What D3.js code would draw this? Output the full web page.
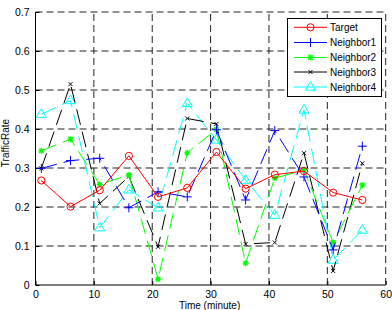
<!DOCTYPE html>
<html><head><meta charset="utf-8">
<script src="https://cdn.jsdelivr.net/npm/d3@7"></script>
<style>body{margin:0;background:#fff}svg{display:block}text{font-family:"Liberation Sans",Arial,sans-serif;}</style>
</head><body>
<svg id="c" width="392" height="310"></svg>
<script>
const minutes = [1, 6, 11, 16, 21, 26, 31, 36, 41, 46, 51, 56];
const target    = [0.268, 0.201, 0.243, 0.331, 0.226, 0.249, 0.341, 0.247, 0.283, 0.292, 0.237, 0.218];
const neighbor1 = [0.299, 0.319, 0.325, 0.198, 0.239, 0.226, 0.398, 0.218, 0.396, 0.277, 0.090, 0.356];
const neighbor2 = [0.344, 0.374, 0.258, 0.282, 0.015, 0.339, 0.399, 0.056, 0.274, 0.295, 0.109, 0.256];
const neighbor3 = [0.299, 0.515, 0.209, 0.278, 0.098, 0.427, 0.413, 0.105, 0.109, 0.338, 0.036, 0.312];
const neighbor4 = [0.438, 0.473, 0.147, 0.244, 0.198, 0.466, 0.372, 0.269, 0.179, 0.449, 0.064, 0.141];
const seriesNames = ["Target", "Neighbor1", "Neighbor2", "Neighbor3", "Neighbor4"];
const xTicks = [0, 10, 20, 30, 40, 50, 60];
const yTicks = [0, 0.1, 0.2, 0.3, 0.4, 0.5, 0.6, 0.7];

const series = [
  {name: seriesNames[0], values: target,    color: "#ff0000", marker: "circle",   dash: null},
  {name: seriesNames[1], values: neighbor1, color: "#0000ff", marker: "plus",     dash: "16,7"},
  {name: seriesNames[2], values: neighbor2, color: "#00ff00", marker: "star",     dash: "16,7"},
  {name: seriesNames[3], values: neighbor3, color: "#000000", marker: "x",        dash: "16,7"},
  {name: seriesNames[4], values: neighbor4, color: "#00ffff", marker: "triangle", dash: "16,7"}
];

const svg = d3.select("#c");
const L = 35.5, R = 385.7, T = 12, B = 285;
const x = d3.scaleLinear().domain([0, 60]).range([L, R]);
const y = d3.scaleLinear().domain([0, 0.7]).range([B, T]);

// grid
const g = svg.append("g");
g.selectAll(".gx").data(xTicks.slice(1)).enter().append("line")
  .attr("x1", d => x(d)).attr("x2", d => x(d)).attr("y1", B).attr("y2", T)
  .attr("stroke", "#222").attr("stroke-width", 1).attr("stroke-dasharray", "7,4");
g.selectAll(".gy").data(yTicks.slice(1)).enter().append("line")
  .attr("y1", d => y(d)).attr("y2", d => y(d)).attr("x1", L).attr("x2", R)
  .attr("stroke", "#222").attr("stroke-width", 1).attr("stroke-dasharray", "7,4");

// axes
const xAxis = d3.axisBottom(x).tickValues(xTicks).tickSize(-4).tickPadding(6).tickFormat(d3.format("d"));
const yAxis = d3.axisLeft(y).tickValues(yTicks).tickSize(-4).tickPadding(6).tickFormat(d => d === 0 ? "0" : d3.format(".1f")(d));
const ax = svg.append("g").attr("transform", `translate(0,${B})`).call(xAxis);
const ay = svg.append("g").attr("transform", `translate(${L},0)`).call(yAxis);
[ax, ay].forEach(a => {
  a.select(".domain").remove();
  a.selectAll("line").attr("stroke", "#000");
  a.selectAll("text").attr("font-size", "10.5px").attr("fill", "#000").attr("font-family", "Liberation Sans, Arial, sans-serif");
});
svg.append("line").attr("x1", L).attr("x2", R).attr("y1", B).attr("y2", B).attr("stroke", "#000");
svg.append("line").attr("x1", L).attr("x2", L).attr("y1", B).attr("y2", T).attr("stroke", "#000");

// markers
function drawMarker(sel, type, color) {
  if (type === "circle") {
    sel.append("circle").attr("r", 3.6).attr("fill", "none").attr("stroke", color);
  } else if (type === "plus") {
    sel.append("path").attr("d", "M-4.5,0H4.5M0,-4.5V4.5").attr("stroke", color);
  } else if (type === "star") {
    sel.append("path").attr("d", "M-3,0H3M0,-3V3M-2.2,-2.2L2.2,2.2M-2.2,2.2L2.2,-2.2").attr("stroke", color).attr("stroke-width", 1.3);
  } else if (type === "x") {
    sel.append("path").attr("d", "M-2,-2L2,2M-2,2L2,-2").attr("stroke", color);
  } else if (type === "triangle") {
    sel.append("path").attr("d", "M0,-5.5L5,3.2L-5,3.2Z").attr("fill", "none").attr("stroke", color);
  }
}

const line = d3.line().x((d, i) => x(minutes[i])).y(d => y(d));
const plot = svg.append("g");
series.slice().reverse().forEach(s => {
  plot.append("path").datum(s.values).attr("d", line)
    .attr("fill", "none").attr("stroke", s.color).attr("stroke-width", 1)
    .attr("stroke-dasharray", s.dash);
  s.values.forEach((v, i) => {
    const m = plot.append("g").attr("transform", `translate(${x(minutes[i])},${y(v)})`);
    drawMarker(m, s.marker, s.color);
  });
});

// labels
svg.append("text").attr("x", (L + R) / 2 - 1).attr("y", 308.5).attr("text-anchor", "middle")
  .attr("font-size", "10px").text("Time (minute)");
svg.append("text").attr("transform", "translate(9,143) rotate(-90)").attr("text-anchor", "middle")
  .attr("font-size", "10px").text("TrafficRate");

// legend
const lg = svg.append("g");
lg.append("rect").attr("x", 287.5).attr("y", 18.5).attr("width", 94).attr("height", 78)
  .attr("fill", "#fff").attr("stroke", "#000").attr("stroke-width", 1);
const ly = [27.3, 42.5, 57.5, 72, 87];
series.forEach((s, i) => {
  lg.append("line").attr("x1", 294).attr("x2", 327).attr("y1", ly[i]).attr("y2", ly[i]).attr("stroke", s.color);
  const m = lg.append("g").attr("transform", `translate(310.5,${ly[i]})`);
  drawMarker(m, s.marker, s.color);
  lg.append("text").attr("x", 330).attr("y", ly[i] + 3.6).attr("font-size", "10px").text(s.name);
});
</script>
</body></html>
